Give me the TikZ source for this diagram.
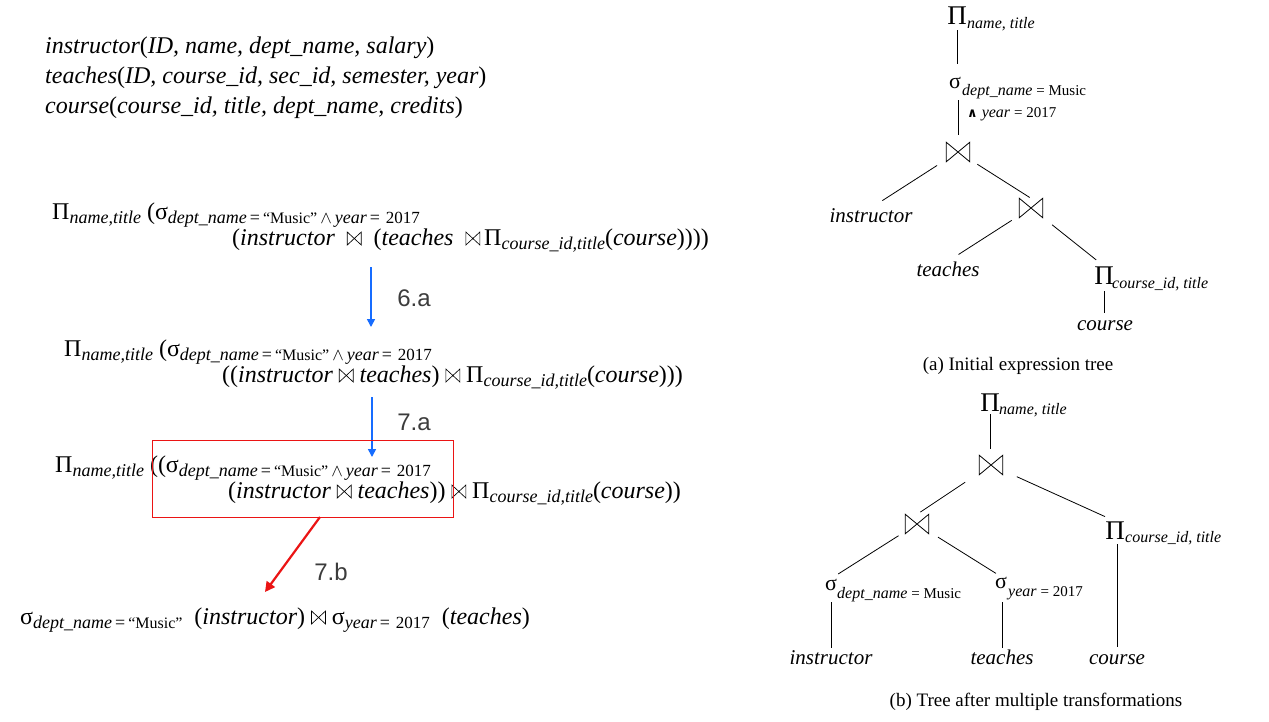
\documentclass[tikz,border=0pt]{standalone}
\usepackage{fontspec}
\setmainfont{Liberation Serif}
\newfontfamily\arialf{Liberation Sans}
\newfontfamily\dejavuf{DejaVu Sans}
\usetikzlibrary{arrows.meta}
\definecolor{arrblue}{RGB}{22,108,255}
\definecolor{arrred}{RGB}{235,20,20}
\definecolor{lblgray}{RGB}{60,60,60}
\newcommand{\fsz}[1]{\fontsize{#1}{#1}\selectfont}
\newcommand{\esub}[1]{\raisebox{-4pt}{\fsz{18}\itshape #1}}
\newcommand{\up}[1]{{\upshape #1}}
\newcommand{\eq}{\up{\,=\,}}
\newcommand{\music}{\up{\fsz{16}“Music”}}
\newcommand{\yr}{\up{\,\fsz{17}2017}}
\newcommand{\bowt}{\tikz[baseline=0pt,x=1pt,y=1pt]\draw[line width=0.65pt,line join=miter] (0,0) -- (14,13) -- (14,0) -- (0,13) -- cycle;}
\begin{document}
\begin{tikzpicture}[x=1pt,y=-1pt,
  expr/.style={anchor=base west,inner sep=0pt,font=\fsz{24}},
  schema/.style={anchor=base west,inner sep=0pt,font=\fsz{24}\itshape},
  tlbl/.style={anchor=base,inner sep=0pt,font=\fsz{21}\itshape},
  tsym/.style={anchor=base,inner sep=0pt,font=\fsz{27}},
  tsig/.style={anchor=base,inner sep=0pt,font=\fsz{22}},
  tsub/.style={anchor=base west,inner sep=0pt,font=\fsz{16}\itshape},
  joinbox/.style={minimum width=23pt,minimum height=19pt,inner sep=0pt},
  capt/.style={anchor=base,inner sep=0pt,font=\fsz{19}},
  steplbl/.style={inner sep=0pt,font=\arialf\fsz{24},text=lblgray},
  tline/.style={line width=0.8pt},
  bluearrow/.style={draw=arrblue,line width=1.6pt,-{Triangle[length=8pt,width=8pt]}},
  redarrow/.style={draw=arrred,line width=2.2pt,-{Triangle[length=10pt,width=10pt]}}
]
\fill[white] (0,0) rectangle (1269,721);
\path[use as bounding box] (0,0) rectangle (1269,721);

% schema
\node[schema] (s1) at (45,53) {instructor\up{(}ID, name, dept\_name, salary\up{)}};
\node[schema] (s2) at (45,83) {teaches\up{(}ID, course\_id, sec\_id, semester, year\up{)}};
\node[schema] (s3) at (45,113) {course\up{(}course\_id, title, dept\_name, credits\up{)}};

% expression 1
\node[expr] (e1a) at (52,219) {Π\esub{name,title} (σ\esub{dept\_name\eq\music\,$\wedge$\,year\eq\yr}};
\node[expr] (e1b) at (232,245) {(\textit{instructor}\enspace\bowt\enspace(\textit{teaches}\enspace\bowt\,Π\esub{course\_id,title}(\textit{course}))))};

% expression 2
\node[expr] (e2a) at (64,356) {Π\esub{name,title} (σ\esub{dept\_name\eq\music\,$\wedge$\,year\eq\yr}};
\node[expr] (e2b) at (222,382) {((\textit{instructor}\ \bowt\ \textit{teaches})\ \bowt\ Π\esub{course\_id,title}(\textit{course})))};

% expression 3
\node[expr] (e3a) at (55,472) {Π\esub{name,title} ((σ\esub{dept\_name\eq\music\,$\wedge$\,year\eq\yr}};
\node[expr] (e3b) at (228,498) {(\textit{instructor}\ \bowt\ \textit{teaches}))\ \bowt\ Π\esub{course\_id,title}(\textit{course}))};

% expression 4
\node[expr] (e4) at (20,624) {σ\esub{dept\_name\eq\music}\ \ (\textit{instructor})\ \bowt\ σ\esub{year\eq\yr}\ \ (\textit{teaches})};

% arrows
\coordinate (a6s) at (371,267); \coordinate (a6e) at (371,327);
\draw[bluearrow] (a6s) -- (a6e);
\node[steplbl] (l6a) at (414,298) {6.a};
\coordinate (a7s) at (372,397); \coordinate (a7e) at (372,457);
\draw[bluearrow] (a7s) -- (a7e);
\node[steplbl] (l7a) at (414,422) {7.a};
\node[draw=arrred,line width=1pt,minimum width=301pt,minimum height=77pt,inner sep=0pt] (box) at (302.5,478.5) {};
\coordinate (r7s) at (320,517); \coordinate (r7e) at (265,592);
\draw[redarrow] (r7s) -- (r7e);
\node[steplbl] (l7b) at (331,572) {7.b};

% tree (a)
\node[tsym] (PA) at (957,24) {Π};
\node[tsub] (PAs) at (967,28) {name, title};
\node[tsig] (SA) at (955,88) {σ};
\node[tsub] (SAs) at (962,95) {dept\_name \up{\fsz{15}= Music}};
\node[tsub] (SAs2) at (967,117) {{\dejavuf\bfseries\fsz{13}∧} year \up{\fsz{15}= 2017}};
\node[joinbox] (J1) at (958,152) {};
\node[tlbl] (IA) at (871,222) {instructor};
\node[joinbox] (J2) at (1031,208) {};
\node[tlbl] (TA) at (948,276) {teaches};
\node[tsym] (PC) at (1104,284) {Π};
\node[tsub] (PCs) at (1112,288) {course\_id, title};
\node[tlbl] (CA) at (1105,330) {course};
\node[capt] (capA) at (1018,370) {(a) Initial expression tree};

\draw[tline,shorten <=6pt,shorten >=13pt] (PA.south) -- (PA.south |- SA.north);
\draw[tline,shorten <=12pt,shorten >=7.5pt] (J1.north |- SA.south) -- (J1.north);
\draw[tline,shorten <=11pt,shorten >=13.5pt] (J1) -- (IA.north);
\draw[tline,shorten <=9pt,shorten >=1.5pt] (J1) -- (J2.north);
\draw[tline,shorten <=9pt,shorten >=12.5pt] (J2) -- (TA.north);
\draw[tline,shorten <=12pt,shorten >=10pt] (J2) -- (PC.north);
\draw[tline,shorten <=7pt,shorten >=6.5pt] (PC.south) -- (PC.south |- CA.north);

% tree (b)
\node[tsym] (PB) at (990,411) {Π};
\node[tsub] (PBs) at (999,414) {name, title};
\node[joinbox] (J3) at (991,465) {};
\node[joinbox] (J4) at (917,524) {};
\node[tsym] (PD) at (1115,539) {Π};
\node[tsub] (PDs) at (1125,542) {course\_id, title};
\node[tsig] (SD) at (831,590) {σ};
\node[tsub] (SDs) at (837,598) {dept\_name \up{\fsz{15}= Music}};
\node[tsig] (SY) at (1001,588) {σ};
\node[tsub] (SYs) at (1008,596) {year \up{\fsz{15}= 2017}};
\node[tlbl] (IB) at (831,664) {instructor};
\node[tlbl] (TB) at (1002,664) {teaches};
\node[tlbl] (CB) at (1117,664) {course};
\node[capt] (capB) at (1036,706) {(b) Tree after multiple transformations};

\draw[tline,shorten <=3pt,shorten >=6.5pt] (PB.south) -- (PB.south |- J3.north);
\draw[tline,shorten <=17pt,shorten >=4pt] (J3) -- (J4.north);
\draw[tline,shorten <=15.5pt,shorten >=11pt] (J3) -- (PD.north);
\draw[tline,shorten <=8pt,shorten >=8.6pt] (J4) -- (SD.north);
\draw[tline,shorten <=11pt,shorten >=6pt] (J4) -- (SY.north);
\draw[tline,shorten <=12pt,shorten >=2.3pt] (IB.north |- SD.south) -- (IB.north);
\draw[tline,shorten <=14pt,shorten >=1.7pt] (TB.north |- SY.south) -- (TB.north);
\draw[tline,shorten <=5pt,shorten >=6.5pt] (CB.north |- PD.south) -- (CB.north);

% join symbols
\foreach \j in {J1,J2,J3,J4}
  \draw[line width=0.8pt,line join=miter] (\j.north west) -- (\j.south east) -- (\j.north east) -- (\j.south west) -- cycle;
\end{tikzpicture}
\end{document}
